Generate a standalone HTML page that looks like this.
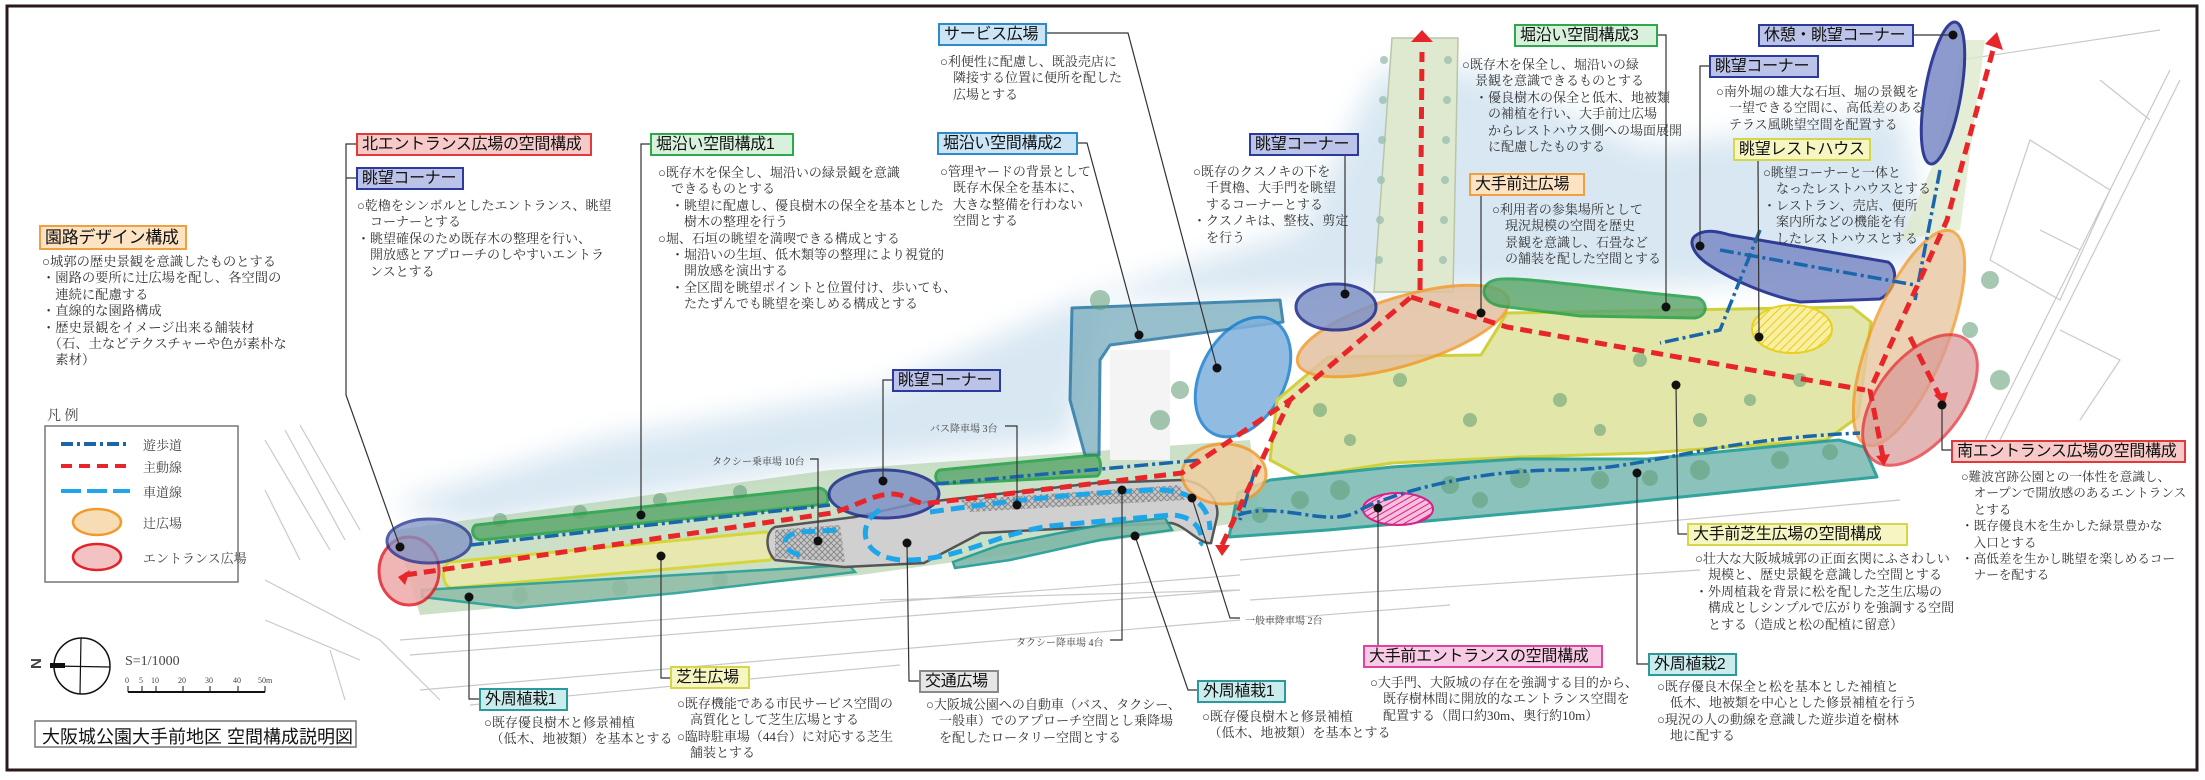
<!DOCTYPE html>
<html><head><meta charset="utf-8">
<style>
html,body{margin:0;padding:0;background:#fff;}
#w{position:relative;width:2205px;height:780px;overflow:hidden;background:#fff;font-family:"Liberation Serif","Noto Serif CJK SC",serif;}
svg{position:absolute;left:0;top:0;}
.lb{position:absolute;font-family:"Liberation Sans","Noto Sans CJK JP",sans-serif;font-size:16px;line-height:19px;padding:0 4px;box-sizing:border-box;border:2px solid;white-space:nowrap;color:#111;overflow:hidden;letter-spacing:-0.3px;}
.t{position:absolute;font-size:13px;line-height:16.4px;color:#333;white-space:pre;}
.s{position:absolute;font-size:10px;color:#444;white-space:nowrap;font-family:"Liberation Serif","Noto Serif CJK SC",serif;}
.red{background:#f7c9c9;border-color:#e23a3a;}
.blu{background:#bcc3e8;border-color:#2b3a9c;}
.grn{background:#d8f1dd;border-color:#2fa84c;}
.sky{background:#cbe5f6;border-color:#2c8bc9;}
.org{background:#fbe3c3;border-color:#f0a040;}
.yel{background:#f6f6c2;border-color:#d5d64a;}
.tea{background:#cbeced;border-color:#2a9a9a;}
.pnk{background:#f8cbe5;border-color:#e044a2;}
.gry{background:#e6e6e6;border-color:#8a8a8a;}
</style></head><body><div id="w">
<svg width="2205" height="780" viewBox="0 0 2205 780">
<defs>
<filter id="bl" x="-20%" y="-20%" width="140%" height="140%"><feGaussianBlur stdDeviation="14"/></filter>
<pattern id="hy" width="6" height="6" patternUnits="userSpaceOnUse" patternTransform="rotate(45)"><rect width="6" height="6" fill="#f8f0a0"/><line x1="0" y1="0" x2="0" y2="6" stroke="#e8c820" stroke-width="2"/></pattern>
<pattern id="hp" width="5" height="5" patternUnits="userSpaceOnUse" patternTransform="rotate(60)"><rect width="5" height="5" fill="#f6c0dd"/><line x1="0" y1="0" x2="0" y2="5" stroke="#d8208a" stroke-width="2"/></pattern>
<pattern id="hx" width="6" height="6" patternUnits="userSpaceOnUse"><rect width="6" height="6" fill="#c8c8c8"/><path d="M0 0L6 6M6 0L0 6" stroke="#8a8a8a" stroke-width="1"/></pattern>
</defs>
<path d="M390 505 L600 440 L880 390 L1080 300 L1300 230 L1380 70 L1470 70 L1650 150 L1900 110 L1930 260 L1700 285 L1370 290 L1100 300 L1070 440 L830 465 L470 525 Z" fill="#d8e7f2" filter="url(#bl)"/>
<g stroke="#c9c9c9" stroke-width="1.2" fill="none">
<path d="M265 440 L330 550 M285 430 L345 540 M300 425 L360 530 M265 490 L300 560 M265 580 L380 640 L440 700 M265 620 L360 660 M330 650 L345 700 M400 640 L1240 575 M410 655 L1240 590 M420 690 L1240 620 M470 705 L900 665 M880 600 L1240 590 M1240 560 L1900 500 M1250 600 L1700 570 M1260 620 L1450 605"/>
<path d="M1985 440 L2170 70 M2000 440 L2180 80 M1960 60 L2160 30 M2030 140 L2110 190 L2060 300 L1990 260 Z M2040 230 L2080 250 M2060 330 L2120 360 L2080 420 M2100 80 L2150 120"/>
</g>
<path d="M1392 38 L1458 38 L1453 292 L1374 292 Z" fill="#dfe9d0" stroke="#b9c6a8" stroke-width="1.5"/>
<g fill="#9cc0b0" opacity="0.8"><circle cx="1384" cy="60" r="4"/><circle cx="1383" cy="100" r="4"/><circle cx="1382" cy="140" r="4"/><circle cx="1381" cy="180" r="4"/><circle cx="1380" cy="220" r="4"/><circle cx="1379" cy="260" r="4"/><circle cx="1448" cy="60" r="4"/><circle cx="1447" cy="100" r="4"/><circle cx="1446" cy="140" r="4"/><circle cx="1445" cy="180" r="4"/><circle cx="1444" cy="220" r="4"/><circle cx="1443" cy="260" r="4"/></g>
<path d="M1935 160 L1965 40 L1985 40 L1960 230 L1900 240 Z" fill="#dde8cc" opacity="0.8"/>
<path d="M395 530 L830 470 L1250 440 L1260 520 L860 575 L420 615 Z" fill="#a9cba0" opacity="0.6"/>
<path d="M1072 308 L1280 300 L1283 322 L1110 345 L1100 360 L1099 455 L1085 455 L1070 400 Z" fill="#7fb0c0" opacity="0.8" stroke="#1b6e9e" stroke-width="3" stroke-linejoin="round"/>
<rect x="1110" y="350" width="60" height="110" fill="#f4f4f4"/>
<ellipse cx="1243" cy="377" rx="42" ry="64" transform="rotate(28 1243 377)" fill="#7eb0dc" opacity="0.85" stroke="#1a7fd0" stroke-width="3"/>
<path d="M1328 357 L1481 355 L1507 313 L1852 307 L1871 322 L1858 417 L1826 440 L1647 453 L1519 457 L1392 463 L1302 477 L1270 460 L1277 400 Z" fill="#e2e6a8" stroke="#cfd03a" stroke-width="3" stroke-linejoin="round"/>
<path d="M1229 537 L1238 493 L1270 480 L1392 467 L1519 459 L1647 459 L1839 440 L1864 447 L1877 477 L1583 507 L1328 530 Z" fill="#7fbdb5" opacity="0.9" stroke="#1e9a94" stroke-width="3" stroke-linejoin="round"/>
<g fill="#5f9c74" opacity="0.55">
<circle cx="1300" cy="500" r="9"/><circle cx="1340" cy="490" r="10"/><circle cx="1450" cy="485" r="9"/><circle cx="1520" cy="478" r="10"/><circle cx="1600" cy="480" r="9"/><circle cx="1700" cy="470" r="10"/><circle cx="1780" cy="460" r="9"/><circle cx="1830" cy="452" r="8"/><circle cx="1260" cy="515" r="8"/><circle cx="1480" cy="500" r="8"/><circle cx="1650" cy="478" r="8"/>
<circle cx="1320" cy="410" r="7"/><circle cx="1400" cy="380" r="7"/><circle cx="1470" cy="420" r="7"/><circle cx="1560" cy="400" r="7"/><circle cx="1640" cy="360" r="7"/><circle cx="1700" cy="420" r="7"/><circle cx="1800" cy="380" r="7"/><circle cx="1350" cy="440" r="6"/><circle cx="1600" cy="430" r="6"/><circle cx="1750" cy="400" r="6"/>
<circle cx="500" cy="520" r="7"/><circle cx="580" cy="512" r="7"/><circle cx="660" cy="500" r="7"/><circle cx="740" cy="492" r="7"/><circle cx="520" cy="595" r="8"/><circle cx="620" cy="588" r="8"/><circle cx="720" cy="580" r="8"/>
<circle cx="1100" cy="300" r="10"/><circle cx="1160" cy="420" r="10"/><circle cx="1180" cy="390" r="9"/><circle cx="1990" cy="280" r="9"/><circle cx="2000" cy="380" r="10"/><circle cx="1970" cy="330" r="8"/>
</g>
<ellipse cx="1403" cy="331" rx="110" ry="34" transform="rotate(-17 1403 331)" fill="#e2c0a0" opacity="0.85" stroke="#f29a2c" stroke-width="3"/>
<ellipse cx="1336" cy="307" rx="40" ry="23" fill="#7f92c6" opacity="0.85" stroke="#1c2a8c" stroke-width="3"/>
<path d="M1490 282 C1500 276 1520 278 1640 292 L1698 298 C1708 302 1708 316 1695 318 L1580 316 L1500 306 C1482 302 1480 288 1490 282 Z" fill="#5fa86e" opacity="0.85" stroke="#23a048" stroke-width="3"/>
<path d="M1695 236 C1705 228 1720 232 1730 235 L1888 262 C1898 268 1898 290 1880 299 L1800 302 C1770 296 1730 280 1705 262 C1690 250 1690 240 1695 236 Z" fill="#8190c8" opacity="0.9" stroke="#1c2a8c" stroke-width="3"/>
<ellipse cx="1792" cy="329" rx="40" ry="24" fill="url(#hy)" stroke="#e8d020" stroke-width="2"/>
<ellipse cx="1398" cy="509" rx="35" ry="16" fill="url(#hp)" stroke="#d8208a" stroke-width="2"/>
<ellipse cx="1943" cy="93" rx="18" ry="72" transform="rotate(10 1943 93)" fill="#8190c8" opacity="0.9" stroke="#1c2a8c" stroke-width="3"/>
<ellipse cx="1909" cy="338" rx="38" ry="115" transform="rotate(22 1909 338)" fill="#e8c8a0" opacity="0.8" stroke="#f29a2c" stroke-width="3"/>
<ellipse cx="1920" cy="400" rx="42" ry="76" transform="rotate(38 1920 400)" fill="#d89898" opacity="0.7" stroke="#e3222a" stroke-width="3"/>
<path d="M476 525 L818 488 C828 488 830 500 826 504 L482 540 C472 540 470 528 476 525 Z" fill="#5fa86e" opacity="0.85" stroke="#23a048" stroke-width="3"/>
<path d="M450 562 L765 532 C774 532 774 558 770 560 L452 588 C442 588 440 566 450 562 Z" fill="#e6e8b0" stroke="#d5d63a" stroke-width="3"/>
<path d="M422 590 L849 565 L855 572 L677 593 L516 608 L422 597 Z" fill="#8fbca6" opacity="0.85" stroke="#1e9a94" stroke-width="2.5"/>
<path d="M775 527 L855 517 L918 503 L1096 483 L1182 480 C1205 482 1220 500 1217 517 L1211 543 C1200 545 1185 525 1171 523 L981 533 L924 563 L844 567 L775 560 C765 550 765 532 775 527 Z" fill="#d0d0d0" stroke="#555" stroke-width="2.5"/>
<path d="M775 530 L840 525 L845 562 L775 558 Z" fill="url(#hx)"/>
<path d="M960 500 L1180 485 L1185 500 L970 512 Z" fill="url(#hx)"/>
<path d="M953 562 L1000 545 L1100 525 L1165 518 L1172 530 L1100 540 L1010 560 L955 568 Z" fill="#7fb7a8" opacity="0.9" stroke="#1e9a94" stroke-width="2.5"/>
<ellipse cx="884" cy="494" rx="55" ry="24" fill="#7f92c6" opacity="0.85" stroke="#1c2a8c" stroke-width="3"/>
<path d="M940 470 L1095 455 C1102 456 1102 474 1097 476 L942 484 C934 482 934 472 940 470 Z" fill="#5fa86e" opacity="0.85" stroke="#23a048" stroke-width="3"/>
<ellipse cx="1224" cy="474" rx="42" ry="30" fill="#f0cfa0" opacity="0.85" stroke="#f29a2c" stroke-width="3"/>
<ellipse cx="409" cy="571" rx="30" ry="34" fill="#eeaaaa" opacity="0.85" stroke="#e3222a" stroke-width="3"/>
<ellipse cx="429" cy="541" rx="42" ry="22" fill="#7f92c6" opacity="0.75" stroke="#1c2a8c" stroke-width="3"/>
<g fill="none" stroke="#1ea6ea" stroke-width="5" stroke-dasharray="14 7">
<path d="M800 555 C780 550 780 535 800 532 L840 530"/>
<path d="M880 510 C860 520 855 555 900 560 C960 562 1000 530 1060 525 L1170 515 C1200 515 1205 540 1200 545"/>
<path d="M930 512 C980 505 1050 495 1150 490 C1190 488 1210 505 1210 530"/>
</g>
<g fill="none" stroke="#1a66ac" stroke-width="3.5" stroke-dasharray="14 4 3 4">
<path d="M470 545 L830 505 M935 484 L1200 460"/>
<path d="M1238 515 C1280 500 1330 530 1360 510 C1400 490 1480 470 1560 470 C1650 470 1700 440 1860 433"/>
<path d="M1255 470 L1240 520 M1720 250 L1915 285 M1940 170 L1915 300 M1760 230 L1720 330 L1660 343"/>
</g>
<g fill="none" stroke="#e8262a" stroke-width="5" stroke-dasharray="12 7">
<path d="M405 575 L832 513 C860 505 880 490 900 495 C915 500 920 505 930 503 L1182 473 L1290 400 L1411 297"/>
<path d="M1222 545 L1290 400"/>
<path d="M1420 290 L1422 52"/>
<path d="M1411 297 L1507 327 L1865 390"/>
<path d="M1883 457 L1870 390 L1947 220 L1993 50"/>
<path d="M1910 337 L1940 397"/>
</g>
<g fill="#e8262a"><path d="M1411 42 L1433 42 L1422 30 Z"/><path d="M1985 44 L2003 50 L1997 32 Z"/><path d="M398 577 L410 570 L405 585 Z"/><path d="M1215 545 L1230 545 L1222 556 Z"/><path d="M1876 456 L1890 454 L1884 466 Z"/><path d="M1934 395 L1948 392 L1944 405 Z"/></g>
<rect x="7" y="6" width="2190" height="764" fill="none" stroke="#2a1a1a" stroke-width="3"/>
<g stroke="#333" stroke-width="1.2" fill="none">
<path d="M356 144 L346 144 L346 395 L400 547 M356 178 L346 178"/>
<path d="M650 144 L641 144 L641 515"/>
<path d="M1046 33 L1128 33 L1217 368"/>
<path d="M1078 143 L1087 143 L1139 335"/>
<path d="M1345 155 L1345 294"/>
<path d="M1657 35 L1666 35 L1666 307"/>
<path d="M1481 195 L1481 313"/>
<path d="M1709 66 L1700 66 L1700 246"/>
<path d="M1913 35 L1953 35"/>
<path d="M1758 160 L1759 337"/>
<path d="M1951 450 L1942 450 L1942 405"/>
<path d="M1687 534 L1678 534 L1676 385"/>
<path d="M1378 646 L1378 508"/>
<path d="M1648 664 L1637 664 L1637 473"/>
<path d="M1197 690 L1188 690 L1135 536"/>
<path d="M1192 498 L1230 618 L1240 618"/>
<path d="M1110 640 L1122 640 L1122 490"/>
<path d="M1005 426 L1017 426 L1017 505"/>
<path d="M810 459 L818 459 L818 541"/>
<path d="M892 380 L883 380 L883 481"/>
<path d="M670 678 L661 678 L661 556"/>
<path d="M919 681 L909 681 L907 543"/>
<path d="M479 699 L469 699 L469 597"/>
</g>
<g fill="#111">
<circle cx="400" cy="547" r="4.5"/><circle cx="641" cy="515" r="4.5"/><circle cx="1217" cy="368" r="4.5"/><circle cx="1139" cy="335" r="4.5"/><circle cx="1345" cy="294" r="4.5"/><circle cx="1666" cy="307" r="4.5"/><circle cx="1481" cy="313" r="4.5"/><circle cx="1700" cy="246" r="4.5"/><circle cx="1953" cy="35" r="4.5"/><circle cx="1759" cy="337" r="4.5"/><circle cx="1942" cy="405" r="4.5"/><circle cx="1676" cy="385" r="4.5"/><circle cx="1378" cy="508" r="4.5"/><circle cx="1637" cy="473" r="4.5"/><circle cx="1135" cy="536" r="4.5"/><circle cx="1192" cy="498" r="4.5"/><circle cx="1122" cy="490" r="4.5"/><circle cx="1017" cy="505" r="4.5"/><circle cx="818" cy="541" r="4.5"/><circle cx="883" cy="481" r="4.5"/><circle cx="661" cy="556" r="4.5"/><circle cx="907" cy="543" r="4.5"/><circle cx="469" cy="597" r="4.5"/>
</g>
<rect x="45" y="426" width="193" height="156" fill="#fff" stroke="#777" stroke-width="1.5"/>
<line x1="61" y1="444" x2="130" y2="444" stroke="#1a66ac" stroke-width="4" stroke-dasharray="12 4 3 4"/>
<line x1="61" y1="466" x2="132" y2="466" stroke="#e8262a" stroke-width="4" stroke-dasharray="11 7"/>
<line x1="61" y1="491" x2="130" y2="491" stroke="#1ea6ea" stroke-width="4" stroke-dasharray="20 6"/>
<ellipse cx="97" cy="522" rx="24" ry="13" fill="#f6ddb6" stroke="#f29a2c" stroke-width="2.5"/>
<ellipse cx="97" cy="557" rx="24" ry="13" fill="#f3c2c2" stroke="#e3222a" stroke-width="2.5"/>
<circle cx="82" cy="666" r="28" fill="none" stroke="#111" stroke-width="1.5"/>
<line x1="54" y1="666" x2="110" y2="667" stroke="#111" stroke-width="1.2"/><line x1="81" y1="638" x2="80" y2="694" stroke="#111" stroke-width="1.2"/>
<rect x="50" y="663" width="15" height="5" fill="#111"/>
<line x1="128" y1="692" x2="265" y2="692" stroke="#111" stroke-width="2"/>
<g stroke="#111" stroke-width="1"><line x1="128" y1="686" x2="128" y2="692"/><line x1="142" y1="686" x2="142" y2="692"/><line x1="156" y1="686" x2="156" y2="692"/><line x1="183" y1="686" x2="183" y2="692"/><line x1="210" y1="686" x2="210" y2="692"/><line x1="238" y1="686" x2="238" y2="692"/><line x1="265" y1="686" x2="265" y2="692"/></g>
<rect x="35" y="721" width="321" height="26" fill="#fff" stroke="#777" stroke-width="1.5"/>
</svg>

<div class="s" style="left:47px;top:405px;font-size:14px;">凡 例</div>
<div class="s" style="left:143px;top:435px;font-size:13px;">遊歩道</div>
<div class="s" style="left:143px;top:457px;font-size:13px;">主動線</div>
<div class="s" style="left:143px;top:482px;font-size:13px;">車道線</div>
<div class="s" style="left:143px;top:513px;font-size:13px;">辻広場</div>
<div class="s" style="left:143px;top:548px;font-size:13px;">エントランス広場</div>
<div class="s" style="left:30px;top:655px;font-size:15px;font-weight:bold;font-family:'Liberation Sans',sans-serif;transform:rotate(90deg);">N</div>
<div class="s" style="left:125px;top:654px;font-size:14px;">S=1/1000</div>
<div class="s" style="left:125px;top:676px;font-size:8px;">0</div><div class="s" style="left:139px;top:676px;font-size:8px;">5</div><div class="s" style="left:151px;top:676px;font-size:8px;">10</div><div class="s" style="left:178px;top:676px;font-size:8px;">20</div><div class="s" style="left:205px;top:676px;font-size:8px;">30</div><div class="s" style="left:233px;top:676px;font-size:8px;">40</div><div class="s" style="left:258px;top:676px;font-size:8px;">50m</div>
<div class="s" style="left:42px;top:723px;font-size:18px;color:#111;font-family:'Liberation Sans','Noto Sans CJK JP',sans-serif;">大阪城公園大手前地区 空間構成説明図</div>

<div class="s" style="left:712px;top:453px;">タクシー乗車場 10台</div>
<div class="s" style="left:930px;top:420px;">バス降車場 3台</div>
<div class="s" style="left:1016px;top:634px;">タクシー降車場 4台</div>
<div class="s" style="left:1245px;top:612px;">一般車降車場 2台</div>

<div class="lb org" style="left:39px;top:225px;width:148px;height:25px;line-height:21px;font-size:17px;">園路デザイン構成</div>
<div class="t" style="left:42px;top:254px;font-size:13.3px;">○城郭の歴史景観を意識したものとする
・園路の要所に辻広場を配し、各空間の
　連続に配慮する
・直線的な園路構成
・歴史景観をイメージ出来る舗装材
　（石、土などテクスチャーや色が素朴な
　素材）</div>

<div class="lb red" style="left:356px;top:133px;width:236px;height:23px;">北エントランス広場の空間構成</div>
<div class="lb blu" style="left:356px;top:167px;width:108px;height:23px;">眺望コーナー</div>
<div class="t" style="left:357px;top:198px;">○乾櫓をシンボルとしたエントランス、眺望
　コーナーとする
・眺望確保のため既存木の整理を行い、
　開放感とアプローチのしやすいエントラ
　ンスとする</div>

<div class="lb grn" style="left:650px;top:133px;width:144px;height:23px;">堀沿い空間構成1</div>
<div class="t" style="left:658px;top:165px;">○既存木を保全し、堀沿いの緑景観を意識
　できるものとする
　・眺望に配慮し、優良樹木の保全を基本とした
　　樹木の整理を行う
○堀、石垣の眺望を満喫できる構成とする
　・堀沿いの生垣、低木類等の整理により視覚的
　　開放感を演出する
　・全区間を眺望ポイントと位置付け、歩いても、
　　たたずんでも眺望を楽しめる構成とする</div>

<div class="lb sky" style="left:938px;top:23px;width:109px;height:23px;">サービス広場</div>
<div class="t" style="left:940px;top:54px;">○利便性に配慮し、既設売店に
　隣接する位置に便所を配した
　広場とする</div>

<div class="lb sky" style="left:937px;top:132px;width:141px;height:23px;">堀沿い空間構成2</div>
<div class="t" style="left:940px;top:164px;">○管理ヤードの背景として
　既存木保全を基本に、
　大きな整備を行わない
　空間とする</div>

<div class="lb blu" style="left:1249px;top:133px;width:110px;height:23px;">眺望コーナー</div>
<div class="t" style="left:1193px;top:164px;">○既存のクスノキの下を
　千貫櫓、大手門を眺望
　するコーナーとする
・クスノキは、整枝、剪定
　を行う</div>

<div class="lb blu" style="left:892px;top:369px;width:109px;height:23px;">眺望コーナー</div>

<div class="lb grn" style="left:1514px;top:24px;width:144px;height:23px;">堀沿い空間構成3</div>
<div class="t" style="left:1462px;top:57px;">○既存木を保全し、堀沿いの緑
　景観を意識できるものとする
　・優良樹木の保全と低木、地被類
　　の補植を行い、大手前辻広場
　　からレストハウス側への場面展開
　　に配慮したものする</div>

<div class="lb org" style="left:1469px;top:173px;width:116px;height:23px;">大手前辻広場</div>
<div class="t" style="left:1492px;top:202px;">○利用者の参集場所として
　現況規模の空間を歴史
　景観を意識し、石畳など
　の舗装を配した空間とする</div>

<div class="lb blu" style="left:1758px;top:24px;width:156px;height:23px;">休憩・眺望コーナー</div>
<div class="lb blu" style="left:1709px;top:55px;width:110px;height:23px;">眺望コーナー</div>
<div class="t" style="left:1716px;top:84px;">○南外堀の雄大な石垣、堀の景観を
　一望できる空間に、高低差のある
　テラス風眺望空間を配置する</div>

<div class="lb yel" style="left:1733px;top:138px;width:138px;height:23px;">眺望レストハウス</div>
<div class="t" style="left:1763px;top:165px;">○眺望コーナーと一体と
　なったレストハウスとする
・レストラン、売店、便所
　案内所などの機能を有
　したレストハウスとする</div>

<div class="lb red" style="left:1951px;top:440px;width:235px;height:23px;">南エントランス広場の空間構成</div>
<div class="t" style="left:1961px;top:469px;font-size:12.6px;">○難波宮跡公園との一体性を意識し、
　オープンで開放感のあるエントランス
　とする
・既存優良木を生かした緑景豊かな
　入口とする
・高低差を生かし眺望を楽しめるコー
　ナーを配する</div>

<div class="lb yel" style="left:1687px;top:523px;width:221px;height:23px;">大手前芝生広場の空間構成</div>
<div class="t" style="left:1695px;top:551px;">○壮大な大阪城城郭の正面玄関にふさわしい
　規模と、歴史景観を意識した空間とする
・外周植栽を背景に松を配した芝生広場の
　構成としシンプルで広がりを強調する空間
　とする（造成と松の配植に留意）</div>

<div class="lb pnk" style="left:1363px;top:645px;width:240px;height:23px;">大手前エントランスの空間構成</div>
<div class="t" style="left:1370px;top:675px;">○大手門、大阪城の存在を強調する目的から、
　既存樹林間に開放的なエントランス空間を
　配置する（間口約30m、奥行約10m）</div>

<div class="lb tea" style="left:1648px;top:653px;width:89px;height:23px;">外周植栽2</div>
<div class="t" style="left:1657px;top:679px;">○既存優良木保全と松を基本とした補植と
　低木、地被類を中心とした修景補植を行う
○現況の人の動線を意識した遊歩道を樹林
　地に配する</div>

<div class="lb tea" style="left:1197px;top:680px;width:89px;height:23px;">外周植栽1</div>
<div class="t" style="left:1202px;top:709px;">○既存優良樹木と修景補植
　（低木、地被類）を基本とする</div>

<div class="lb gry" style="left:919px;top:670px;width:80px;height:23px;">交通広場</div>
<div class="t" style="left:926px;top:697px;">○大阪城公園への自動車（バス、タクシー、
　一般車）でのアプローチ空間とし乗降場
　を配したロータリー空間とする</div>

<div class="lb yel" style="left:670px;top:666px;width:80px;height:23px;">芝生広場</div>
<div class="t" style="left:677px;top:696px;">○既存機能である市民サービス空間の
　高質化として芝生広場とする
○臨時駐車場（44台）に対応する芝生
　舗装とする</div>

<div class="lb tea" style="left:479px;top:688px;width:89px;height:23px;">外周植栽1</div>
<div class="t" style="left:484px;top:715px;">○既存優良樹木と修景補植
　（低木、地被類）を基本とする</div>
</div></body></html>
